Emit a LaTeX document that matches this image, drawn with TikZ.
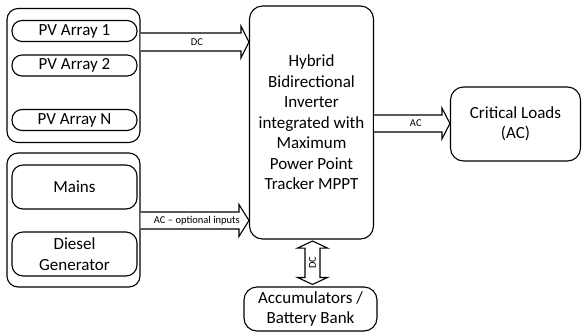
\documentclass[tikz,border=0pt]{standalone}
\usepackage{fontspec}
\setmainfont{Carlito}
\usetikzlibrary{calc}

% horizontal block arrow: #1 tail, #2 tip, #3 half body, #4 half head, #5 head length
\newcommand\blockarrowh[5]{%
  \draw[barrow] let \p1=(#1), \p2=(#2) in
    (\x1,\y1+#3) -- (\x2-#5,\y1+#3) -- (\x2-#5,\y1+#4) -- (\x2,\y1)
    -- (\x2-#5,\y1-#4) -- (\x2-#5,\y1-#3) -- (\x1,\y1-#3);}

\begin{document}
\begin{tikzpicture}[x=1pt,y=-1pt,
  txt/.style={font=\fontsize{17}{20.5}\selectfont},
  box/.style={draw, line width=1.1pt, fill=white, align=center, inner sep=0pt, txt},
  pill/.style={box, rounded corners=10pt, minimum width=125pt, minimum height=21pt},
  tallbox/.style={box, rounded corners=11pt, minimum width=125pt, minimum height=44pt},
  group/.style={draw, line width=1.1pt, rounded corners=11pt, minimum width=133pt, minimum height=134pt, inner sep=0pt},
  barrow/.style={draw, fill=white, line width=1.1pt, line join=miter},
  lbl/.style={font=\fontsize{10.5}{12}\selectfont, inner sep=0pt}]
\useasboundingbox (0,0) rectangle (582,333);

% PV sources
\node[group] (g1) at (73.5,75.5) {};
\node[pill] (pv1) at (74.5,31) {PV Array 1};
\node[pill] (pv2) at (74.5,65.5) {PV Array 2};
\node[pill] (pvn) at (74.5,120) {PV Array N};

% AC sources
\node[group] (g2) at (73.5,220) {};
\node[tallbox] (mains) at (74.5,187) {Mains};
\node[tallbox, text depth=0pt] (diesel) at (74.5,254) {Diesel\\Generator};

% inverter, loads, storage
\node[box, rounded corners=13pt, minimum width=124pt, minimum height=233pt] (inv) at (311.5,122.5)
  {Hybrid\\Bidirectional\\Inverter\\integrated with\\Maximum\\Power Point\\Tracker MPPT};
\node[box, rounded corners=13pt, minimum width=130pt, minimum height=74pt] (loads) at (515.5,124)
  {Critical Loads\\(AC)};
\node[box, rounded corners=13pt, minimum width=133pt, minimum height=44pt] (batt) at (310.5,309)
  {Accumulators /\\Battery Bank};

% DC input from PV
\coordinate (dcA) at (g1.east |- 0,42);
\coordinate (dcB) at (inv.west |- 0,42);
\blockarrowh{dcA}{dcB}{9pt}{16pt}{8pt}
\node[lbl] (dcl) at ($(dcA)!0.52!(dcB)$) {DC};

% optional AC inputs
\coordinate (acA) at (g2.east |- 0,220.5);
\coordinate (acB) at (inv.west |- 0,220.5);
\blockarrowh{acA}{acB}{8.5pt}{16pt}{10pt}
\node[lbl] (acl) at ($(acA)!0.52!(acB)$) {AC -- optional inputs};

% AC output to loads
\coordinate (outA) at (inv.east |- 0,123.5);
\coordinate (outB) at (loads.west |- 0,123.5);
\blockarrowh{outA}{outB}{8.5pt}{15.5pt}{8pt}
\node[lbl] (outl) at ($(outA)!0.55!(outB)$) {AC};

% bidirectional DC link to the battery bank
\coordinate (vA) at ([xshift=1pt,yshift=-1.5pt]inv.south);
\coordinate (vB) at ([xshift=2pt,yshift=2pt]batt.north);
\draw[barrow] let \p1=(vA), \p2=(vB) in
  (\x1,\y1) -- (\x1+15pt,\y1-7pt) -- (\x1+7.5pt,\y1-7pt) -- (\x1+7.5pt,\y2+7pt)
  -- (\x1+15pt,\y2+7pt) -- (\x1,\y2) -- (\x1-15pt,\y2+7pt) -- (\x1-7.5pt,\y2+7pt)
  -- (\x1-7.5pt,\y1-7pt) -- (\x1-15pt,\y1-7pt) -- cycle;
\node[lbl, rotate=90] (vl) at ($(vA)!0.5!(vB)$) {DC};
\end{tikzpicture}
\end{document}
